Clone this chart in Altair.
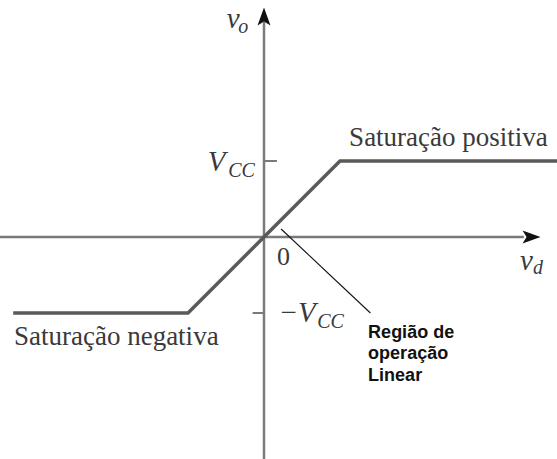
import altair as alt
import pandas as pd

# Transfer characteristic of an op-amp: v_o versus v_d (units of V_CC)
curve_vd = [-3.30, -1.0, 1.0, 3.90]
curve_vo = [-1.0, -1.0, 1.0, 1.0]

# Axis extents (data units)
x_min, x_max = -264 / 76, 293 / 76
y_min, y_max = -222 / 76, 237 / 76

# Axis lines
h_axis = {"x": [x_min], "x2": [3.42], "y": [0.0]}
v_axis = {"x": [0.0], "y": [y_min], "y2": [2.83]}

# Ticks at +V_CC (right side) and -V_CC (left side)
tick_x = [0.0, -0.15]
tick_x2 = [0.17, 0.0]
tick_y = [1.0, -1.0]

# Arrowheads
arrow_x = [3.52, 0.0]
arrow_y = [0.0, 2.90]
arrow_shape = [
    "M1,0 L-1,0.72 L-0.55,0 L-1,-0.72 Z",
    "M0,-1 L0.72,1 L0,0.55 L-0.72,1 Z",
]

# Leader line to the linear-region note
leader_x = [0.225, 1.40]
leader_y = [0.105, -1.00]

# Serif upright labels
serif_text = ["Saturação positiva", "Saturação negativa", "0"]
serif_x = [1.12, -3.29, 0.17]
serif_y = [1.197, -1.421, -0.37]
serif_size = [27, 27, 26]

# Serif italic labels (symbols and subscripts)
ital_text = ["v", "o", "V", "CC", "\u2212V", "CC", "v", "d"]
ital_x = [-0.49, -0.34, -0.74, -0.47, 0.19, 0.70, 3.37, 3.54]
ital_y = [2.75, 2.68, 0.87, 0.79, -1.12, -1.20, -0.43, -0.49]
ital_size = [29, 20, 29, 20, 29, 20, 29, 20]

# Bold sans note
note_text = ["Região de", "operação", "Linear"]
note_x = [1.37, 1.37, 1.37]
note_y = [-1.329, -1.605, -1.895]

xs = alt.Scale(domain=[x_min, x_max], nice=False, zero=False)
ys = alt.Scale(domain=[y_min, y_max], nice=False, zero=False)

axis_color = "#7a7a7a"
curve_color = "#5a5a5a"
text_color = "#3a3a3a"

haxis = alt.Chart(pd.DataFrame(h_axis)).mark_rule(
    color=axis_color, strokeWidth=2.5
).encode(
    x=alt.X("x:Q", scale=xs, axis=None),
    x2="x2:Q",
    y=alt.Y("y:Q", scale=ys, axis=None),
)

vaxis = alt.Chart(pd.DataFrame(v_axis)).mark_rule(
    color=axis_color, strokeWidth=2.5
).encode(
    x=alt.X("x:Q", scale=xs, axis=None),
    y=alt.Y("y:Q", scale=ys, axis=None),
    y2="y2:Q",
)

ticks = alt.Chart(
    pd.DataFrame({"x": tick_x, "x2": tick_x2, "y": tick_y})
).mark_rule(color=axis_color, strokeWidth=2).encode(
    x=alt.X("x:Q", scale=xs, axis=None),
    x2="x2:Q",
    y=alt.Y("y:Q", scale=ys, axis=None),
)

arrows = alt.layer(
    *[
        alt.Chart(pd.DataFrame({"x": [ax], "y": [ay]}))
        .mark_point(shape=shp, filled=True, color="#111111", size=324, opacity=1)
        .encode(
            x=alt.X("x:Q", scale=xs, axis=None),
            y=alt.Y("y:Q", scale=ys, axis=None),
        )
        for ax, ay, shp in zip(arrow_x, arrow_y, arrow_shape)
    ]
)

curve = alt.Chart(
    pd.DataFrame({"vd": curve_vd, "vo": curve_vo, "order": range(len(curve_vd))})
).mark_line(color=curve_color, strokeWidth=3.5, strokeJoin="miter").encode(
    x=alt.X("vd:Q", scale=xs, axis=None),
    y=alt.Y("vo:Q", scale=ys, axis=None),
    order="order:Q",
)

leader = alt.Chart(
    pd.DataFrame({"x": leader_x, "y": leader_y})
).mark_line(color="#111111", strokeWidth=1.1).encode(
    x=alt.X("x:Q", scale=xs, axis=None),
    y=alt.Y("y:Q", scale=ys, axis=None),
)

serif = alt.Chart(
    pd.DataFrame({"t": serif_text, "x": serif_x, "y": serif_y, "s": serif_size})
).mark_text(
    font="Liberation Serif", align="left", baseline="alphabetic", color=text_color
).encode(
    x=alt.X("x:Q", scale=xs, axis=None),
    y=alt.Y("y:Q", scale=ys, axis=None),
    text="t:N",
    size=alt.Size("s:Q", scale=None, legend=None),
)

ital = alt.Chart(
    pd.DataFrame({"t": ital_text, "x": ital_x, "y": ital_y, "s": ital_size})
).mark_text(
    font="Liberation Serif", fontStyle="italic", align="left",
    baseline="alphabetic", color=text_color,
).encode(
    x=alt.X("x:Q", scale=xs, axis=None),
    y=alt.Y("y:Q", scale=ys, axis=None),
    text="t:N",
    size=alt.Size("s:Q", scale=None, legend=None),
)

note = alt.Chart(
    pd.DataFrame({"t": note_text, "x": note_x, "y": note_y})
).mark_text(
    font="Liberation Sans", fontWeight="bold", fontSize=18, align="left",
    baseline="alphabetic", color="#111111",
).encode(
    x=alt.X("x:Q", scale=xs, axis=None),
    y=alt.Y("y:Q", scale=ys, axis=None),
    text="t:N",
)

chart = (
    alt.layer(haxis, vaxis, ticks, curve, leader, arrows, serif, ital, note)
    .properties(width=557, height=459, padding=0, autosize="none", background="white")
    .configure_view(stroke=None)
)

chart.save("out.html", embed_options={"renderer": "svg", "actions": False})
